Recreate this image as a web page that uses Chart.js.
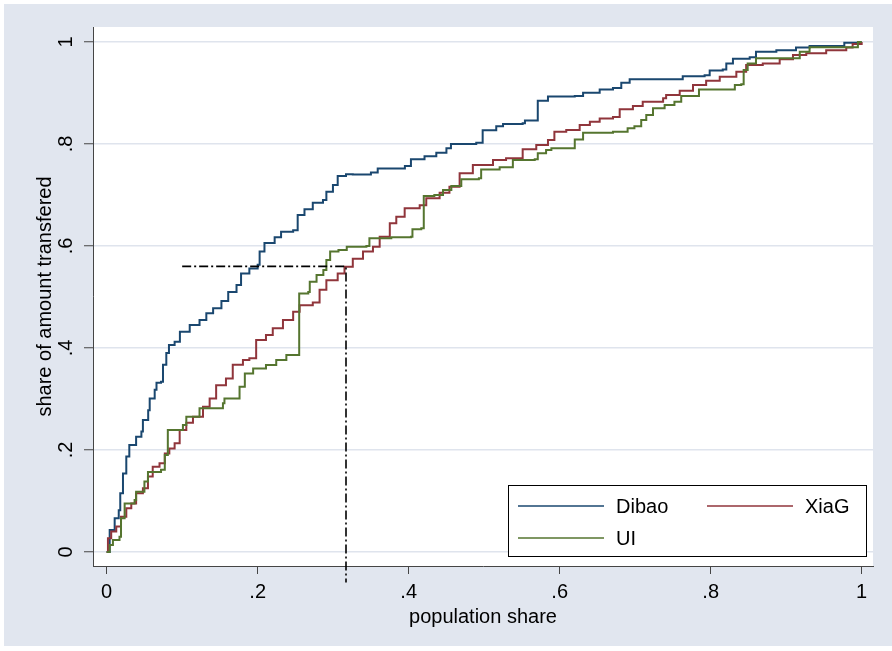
<!DOCTYPE html>
<html>
<head>
<meta charset="utf-8">
<script src="https://cdn.jsdelivr.net/npm/chart.js@4.4.1/dist/chart.umd.min.js"></script>
<style>
  html, body { margin: 0; padding: 0; background: #fff; }
</style>
</head>
<body>
<canvas id="c" width="892" height="651"></canvas>
<script>
// values
const tickVals = [0, 0.2, 0.4, 0.6, 0.8, 1];
const tickLabels = ['0', '.2', '.4', '.6', '.8', '1'];

const dibaoX = [0, 0.004, 0.0106, 0.016, 0.018, 0.0216, 0.026, 0.030, 0.039, 0.046, 0.048, 0.055, 0.057, 0.0636, 0.066, 0.072, 0.0746, 0.079, 0.0825, 0.090, 0.097, 0.110, 0.123, 0.132, 0.141, 0.152, 0.161, 0.172, 0.178, 0.189, 0.200, 0.2026, 0.209, 0.2225, 0.231, 0.247, 0.253, 0.262, 0.273, 0.2865, 0.291, 0.2997, 0.306, 0.317, 0.326, 0.350, 0.359, 0.395, 0.403, 0.421, 0.4366, 0.450, 0.456, 0.4895, 0.498, 0.516, 0.525, 0.551, 0.554, 0.569, 0.571, 0.5845, 0.620, 0.631, 0.653, 0.6706, 0.6816, 0.6927, 0.763, 0.792, 0.7987, 0.816, 0.8207, 0.8295, 0.8517, 0.860, 0.887, 0.913, 0.931, 0.975, 0.977, 0.997, 1];
const dibaoY = [0, 0.043, 0.066, 0.082, 0.115, 0.154, 0.187, 0.21, 0.226, 0.236, 0.259, 0.278, 0.301, 0.318, 0.332, 0.334, 0.367, 0.39, 0.406, 0.412, 0.432, 0.445, 0.455, 0.468, 0.478, 0.492, 0.510, 0.5235, 0.546, 0.556, 0.563, 0.589, 0.606, 0.617, 0.628, 0.631, 0.661, 0.672, 0.685, 0.690, 0.7065, 0.7196, 0.737, 0.7405, 0.740, 0.744, 0.752, 0.757, 0.770, 0.776, 0.783, 0.7915, 0.800, 0.8026, 0.827, 0.835, 0.839, 0.8405, 0.846, 0.846, 0.885, 0.893, 0.894, 0.9006, 0.907, 0.910, 0.920, 0.927, 0.933, 0.935, 0.944, 0.946, 0.958, 0.967, 0.970, 0.981, 0.984, 0.989, 0.992, 0.992, 0.9986, 1, 1];

const xiagX = [0, 0.0017, 0.006, 0.0127, 0.019, 0.026, 0.0326, 0.039, 0.048, 0.0547, 0.061, 0.070, 0.077, 0.083, 0.090, 0.0967, 0.1055, 0.1143, 0.1276, 0.1364, 0.145, 0.158, 0.167, 0.1805, 0.189, 0.198, 0.211, 0.220, 0.2335, 0.247, 0.2556, 0.273, 0.282, 0.291, 0.306, 0.315, 0.326, 0.3395, 0.3527, 0.3616, 0.375, 0.3836, 0.3947, 0.4146, 0.4233, 0.441, 0.454, 0.4675, 0.485, 0.5117, 0.529, 0.551, 0.569, 0.5845, 0.593, 0.6087, 0.6265, 0.640, 0.653, 0.6706, 0.6795, 0.697, 0.710, 0.737, 0.741, 0.759, 0.7766, 0.794, 0.812, 0.834, 0.847, 0.869, 0.8914, 0.909, 0.9266, 0.953, 0.9796, 0.988, 1];
const xiagY = [0, 0.027, 0.040, 0.050, 0.069, 0.0855, 0.095, 0.115, 0.125, 0.148, 0.167, 0.174, 0.193, 0.203, 0.213, 0.239, 0.2536, 0.265, 0.285, 0.301, 0.327, 0.340, 0.367, 0.3765, 0.380, 0.4157, 0.4255, 0.4386, 0.455, 0.471, 0.484, 0.489, 0.514, 0.533, 0.546, 0.5594, 0.575, 0.589, 0.5986, 0.618, 0.6445, 0.6575, 0.674, 0.680, 0.6935, 0.7046, 0.716, 0.7425, 0.759, 0.7686, 0.772, 0.7896, 0.798, 0.8078, 0.824, 0.8275, 0.837, 0.8437, 0.850, 0.853, 0.868, 0.8745, 0.883, 0.8896, 0.896, 0.9045, 0.9157, 0.924, 0.932, 0.9418, 0.955, 0.958, 0.966, 0.9745, 0.978, 0.984, 0.989, 0.996, 1];

const uiX = [0, 0.004, 0.0083, 0.017, 0.019, 0.0238, 0.037, 0.039, 0.050, 0.0547, 0.072, 0.077, 0.081, 0.101, 0.1055, 0.1187, 0.123, 0.154, 0.156, 0.174, 0.176, 0.183, 0.194, 0.211, 0.2246, 0.238, 0.255, 0.255, 0.267, 0.269, 0.278, 0.287, 0.291, 0.296, 0.307, 0.318, 0.344, 0.348, 0.377, 0.403, 0.405, 0.4167, 0.420, 0.434, 0.4455, 0.4565, 0.4697, 0.493, 0.496, 0.5205, 0.538, 0.567, 0.571, 0.582, 0.589, 0.6176, 0.620, 0.631, 0.6706, 0.688, 0.690, 0.699, 0.708, 0.7147, 0.7236, 0.739, 0.752, 0.761, 0.783, 0.7845, 0.8295, 0.832, 0.8405, 0.8437, 0.849, 0.860, 0.9156, 0.918, 0.931, 0.988, 0.995, 1];
const uiY = [0, 0.0137, 0.0235, 0.030, 0.066, 0.095, 0.102, 0.118, 0.138, 0.157, 0.161, 0.190, 0.239, 0.249, 0.265, 0.265, 0.282, 0.2915, 0.301, 0.301, 0.324, 0.350, 0.360, 0.3667, 0.3765, 0.386, 0.3895, 0.507, 0.510, 0.530, 0.543, 0.553, 0.5725, 0.589, 0.592, 0.5986, 0.600, 0.615, 0.617, 0.618, 0.6327, 0.6347, 0.698, 0.700, 0.710, 0.7177, 0.7307, 0.7327, 0.750, 0.7543, 0.7686, 0.770, 0.782, 0.788, 0.7915, 0.7915, 0.809, 0.822, 0.824, 0.824, 0.8307, 0.835, 0.847, 0.857, 0.870, 0.8765, 0.883, 0.894, 0.894, 0.907, 0.907, 0.9157, 0.917, 0.945, 0.958, 0.968, 0.968, 0.981, 0.9896, 0.9896, 1, 1];

// dash-dot guide lines
const refX = [0.1, 0.317, 0.317];
const refY = [0.56, 0.56, -0.06];

const toPts = (xs, ys) => xs.map((x, i) => ({ x: x, y: ys[i] }));

const FONT = { family: "'Liberation Sans', Arial, sans-serif", size: 20 };
const INK = '#000';
const AXIS = '#454545';

const framePlugin = {
    id: 'frame',
    beforeDraw(chart) {
        const ctx = chart.ctx;
        const a = chart.chartArea;
        ctx.save();
        ctx.fillStyle = '#ffffff';
        ctx.fillRect(0, 0, chart.width, chart.height);
        ctx.fillStyle = '#e1e6ef';
        ctx.fillRect(4, 4, chart.width - 4, chart.height - 9);
        ctx.fillStyle = '#ffffff';
        ctx.fillRect(a.left, a.top, a.right - a.left, a.bottom - a.top);
        ctx.restore();
    }
};

// legend drawn inside the plot region, lower right
const legendPlugin = {
    id: 'boxLegend',
    afterDatasetsDraw(chart) {
        const ctx = chart.ctx;
        const box = { x: 508, y: 485, w: 358, h: 71 };
        const slots = [
            { x: 518, y: 506 },
            { x: 707, y: 506 },
            { x: 518, y: 538 }
        ];
        ctx.save();
        ctx.fillStyle = '#fff';
        ctx.fillRect(box.x, box.y, box.w, box.h);
        ctx.strokeStyle = '#000';
        ctx.lineWidth = 1;
        ctx.strokeRect(box.x + 0.5, box.y + 0.5, box.w, box.h);
        ctx.font = "20px 'Liberation Sans', Arial, sans-serif";
        ctx.textBaseline = 'middle';
        ctx.textAlign = 'left';
        chart.data.datasets.filter(d => d.inLegend).forEach((d, i) => {
            const s = slots[i];
            ctx.strokeStyle = d.borderColor;
            ctx.lineWidth = 1.6;
            ctx.beginPath();
            ctx.moveTo(s.x, s.y);
            ctx.lineTo(s.x + 86, s.y);
            ctx.stroke();
            ctx.fillStyle = INK;
            ctx.fillText(d.label, s.x + 98, s.y + 1);
        });
        ctx.restore();
    }
};

const tickText = v => {
    const i = tickVals.findIndex(t => Math.abs(t - v) < 1e-9);
    return i >= 0 ? tickLabels[i] : '';
};

const series = (label, order, xs, ys, color) => ({
    label: label, inLegend: true, order: order, data: toPts(xs, ys),
    borderColor: color, borderWidth: 2, pointRadius: 0, stepped: true, fill: false
});

new Chart(document.getElementById('c'), {
    type: 'line',
    data: {
        datasets: [
            series('Dibao', 3, dibaoX, dibaoY, '#1a476f'),
            series('XiaG', 2, xiagX, xiagY, '#90353b'),
            series('UI', 1, uiX, uiY, '#55752f'),
            { label: 'ref', inLegend: false, order: 0, data: toPts(refX, refY), borderColor: '#000', borderWidth: 1.6, borderDash: [9, 3, 2, 3], pointRadius: 0, tension: 0, fill: false, clip: false }
        ]
    },
    options: {
        responsive: false,
        animation: false,
        layout: { padding: { top: 27, right: 19, left: 0, bottom: 0 } },
        plugins: { legend: { display: false }, tooltip: { enabled: false } },
        scales: {
            x: {
                type: 'linear',
                min: -0.0181,
                max: 1.015,
                afterBuildTicks: s => { s.ticks = tickVals.map(v => ({ value: v })); },
                afterFit: s => { s.height = 85; },
                ticks: { callback: v => tickText(v), font: FONT, color: INK, padding: 6, maxRotation: 0, autoSkip: false },
                grid: { drawOnChartArea: false, tickLength: 8, tickColor: AXIS, tickWidth: 1 },
                border: { color: AXIS, width: 1 },
                title: { display: true, text: 'population share', font: FONT, color: INK, padding: { top: 0, bottom: 22 } }
            },
            y: {
                type: 'linear',
                min: -0.0275,
                max: 1.0294,
                afterBuildTicks: s => { s.ticks = tickVals.map(v => ({ value: v })); },
                afterFit: s => { s.width = 93; },
                ticks: { callback: v => tickText(v), font: FONT, color: INK, padding: 9, minRotation: 90, maxRotation: 90, crossAlign: 'center', autoSkip: false },
                grid: { color: '#dfe4ed', lineWidth: 1.5, tickLength: 9, tickColor: AXIS, tickWidth: 1 },
                border: { color: AXIS, width: 1 },
                title: { display: true, text: 'share of amount transfered', font: FONT, color: INK, padding: { top: 33, bottom: 0 } }
            }
        }
    },
    plugins: [framePlugin, legendPlugin]
});
</script>
</body>
</html>
